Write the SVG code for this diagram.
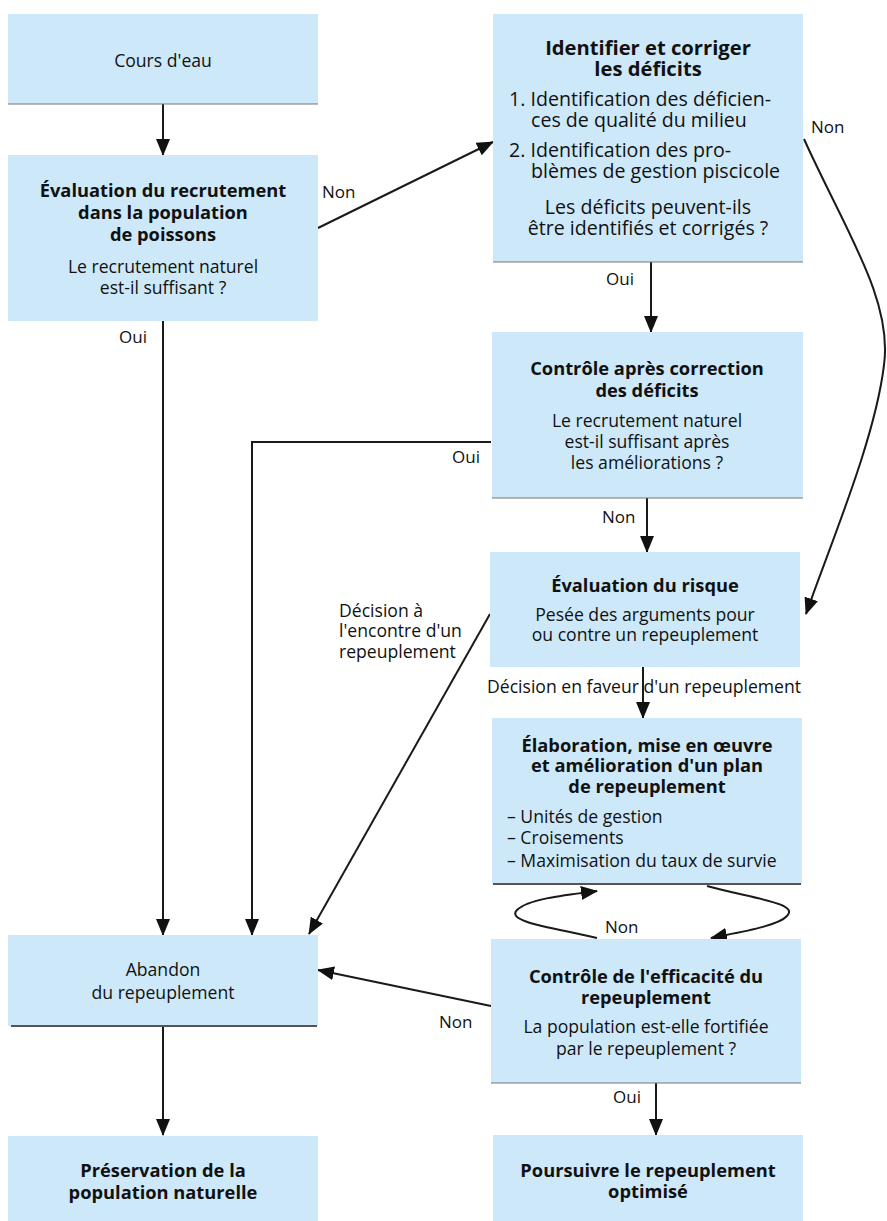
<svg xmlns="http://www.w3.org/2000/svg" width="887" height="1221" viewBox="0 0 887 1221">
<defs>
<style>
.box{fill:#cde9f9}
.edge{stroke:#777;stroke-width:1.2}
.edged{stroke:#555;stroke-width:2}
text{font-family:"Open Sans","Noto Sans","Liberation Sans",sans-serif;font-size:17.6px;fill:#111}
.b{font-weight:bold;font-size:18.3px}
.l{font-size:17px}
.big{font-size:19.6px}
.bb{font-weight:bold;font-size:20.2px}
.c{text-anchor:middle}
.con{fill:none;stroke:#1a1a1a;stroke-width:2;marker-end:url(#ah)}
</style>
<marker id="ah" viewBox="0 0 17 14" markerWidth="17" markerHeight="14" refX="16" refY="7" orient="auto" markerUnits="userSpaceOnUse">
<path d="M0,0 L17,7 L0,14 Z" fill="#111"/>
</marker>
</defs>
<rect width="887" height="1221" fill="#fff"/>

<g id="connectors">
<path class="con" d="M163,104 V155"/>
<path class="con" d="M318,228 L493,142"/>
<path class="con" d="M163,321 V935"/>
<path class="con" d="M651,262 V332"/>
<path class="con" d="M491,442 H252 V935"/>
<path class="con" d="M647,498 V552"/>
<path class="con" d="M804,139 C845,230 893,300 884,365 C875,440 830,545 806,614"/>
<path class="con" d="M490,614 L309,934"/>
<path class="con" d="M643,667 V718"/>
<path class="con" d="M707,886 C750,898 800,903 787,916 C778,926 740,932 711,938"/>
<path class="con" d="M597,938 C555,928 505,922 517,910 C528,899 565,895 597,891"/>
<path class="con" d="M491,1006 L318,970"/>
<path class="con" d="M656,1083 V1135"/>
<path class="con" d="M163,1026 V1135"/>
</g>

<g id="labels">
<text class="l" x="322" y="198">Non</text>
<text class="l" x="119" y="343">Oui</text>
<text class="l" x="811" y="133">Non</text>
<text class="l" x="606" y="285">Oui</text>
<text class="l" x="452" y="463">Oui</text>
<text class="l" x="602" y="523">Non</text>
<text x="339" y="617">Décision à</text>
<text x="339" y="637">l'encontre d'un</text>
<text x="339" y="658">repeuplement</text>
<text x="487" y="693">Décision en faveur d'un repeuplement</text>
<text class="l" x="605" y="933">Non</text>
<text class="l" x="439" y="1028">Non</text>
<text class="l" x="613" y="1103">Oui</text>
</g>

<g id="n1">
<rect class="box" x="8" y="14" width="310" height="90"/>
<line class="edge" x1="8" y1="104" x2="318" y2="104"/>
<text class="c" x="163" y="67">Cours d'eau</text>
</g>

<g id="n2">
<rect class="box" x="8" y="155" width="310" height="166"/>
<text class="c b" x="163" y="197">Évaluation du recrutement</text>
<text class="c b" x="163" y="219">dans la population</text>
<text class="c b" x="163" y="241">de poissons</text>
<text class="c" x="163" y="273">Le recrutement naturel</text>
<text class="c" x="163" y="294">est-il suffisant ?</text>
</g>

<g id="n3">
<rect class="box" x="493" y="14" width="310" height="248"/>
<line class="edge" x1="493" y1="262" x2="803" y2="262"/>
<text class="c bb" x="648" y="55">Identifier et corriger</text>
<text class="c bb" x="648" y="76">les déficits</text>
<text class="big" x="509" y="106">1. Identification des déficien-</text>
<text class="big" x="531" y="127">ces de qualité du milieu</text>
<text class="big" x="509" y="157">2. Identification des pro-</text>
<text class="big" x="531" y="178">blèmes de gestion piscicole</text>
<text class="c big" x="648" y="214">Les déficits peuvent-ils</text>
<text class="c big" x="648" y="235">être identifiés et corrigés ?</text>
</g>

<g id="n4">
<rect class="box" x="492" y="332" width="311" height="166"/>
<line class="edge" x1="492" y1="498" x2="803" y2="498"/>
<text class="c b" x="647" y="375">Contrôle après correction</text>
<text class="c b" x="647" y="397">des déficits</text>
<text class="c" x="647" y="427">Le recrutement naturel</text>
<text class="c" x="647" y="448">est-il suffisant après</text>
<text class="c" x="647" y="469">les améliorations ?</text>
</g>

<g id="n5">
<rect class="box" x="490" y="552" width="310" height="115"/>
<text class="c b" x="645" y="592">Évaluation du risque</text>
<text class="c" x="645" y="621">Pesée des arguments pour</text>
<text class="c" x="645" y="641">ou contre un repeuplement</text>
</g>

<g id="n6">
<rect class="box" x="492" y="718" width="310" height="166"/>
<line class="edged" x1="493" y1="884" x2="801" y2="884"/>
<text class="c b" x="647" y="752">Élaboration, mise en œuvre</text>
<text class="c b" x="647" y="772">et amélioration d'un plan</text>
<text class="c b" x="647" y="793">de repeuplement</text>
<text x="507" y="823">– Unités de gestion</text>
<text x="507" y="844">– Croisements</text>
<text x="507" y="867">– Maximisation du taux de survie</text>
</g>

<g id="n7">
<rect class="box" x="491" y="939" width="310" height="144"/>
<line class="edge" x1="491" y1="1083" x2="801" y2="1083"/>
<text class="c b" x="646" y="983">Contrôle de l'efficacité du</text>
<text class="c b" x="646" y="1004">repeuplement</text>
<text class="c" x="646" y="1033">La population est-elle fortifiée</text>
<text class="c" x="646" y="1055">par le repeuplement ?</text>
</g>

<g id="n8">
<rect class="box" x="8" y="935" width="310" height="91"/>
<line class="edged" x1="11" y1="1026" x2="317" y2="1026"/>
<text class="c" x="163" y="976">Abandon</text>
<text class="c" x="163" y="999">du repeuplement</text>
</g>

<g id="n9">
<rect class="box" x="8" y="1136" width="310" height="85"/>
<text class="c b" x="163" y="1177">Préservation de la</text>
<text class="c b" x="163" y="1199">population naturelle</text>
</g>

<g id="n10">
<rect class="box" x="493" y="1135" width="310" height="86"/>
<text class="c b" x="648" y="1177">Poursuivre le repeuplement</text>
<text class="c b" x="648" y="1198">optimisé</text>
</g>
</svg>
